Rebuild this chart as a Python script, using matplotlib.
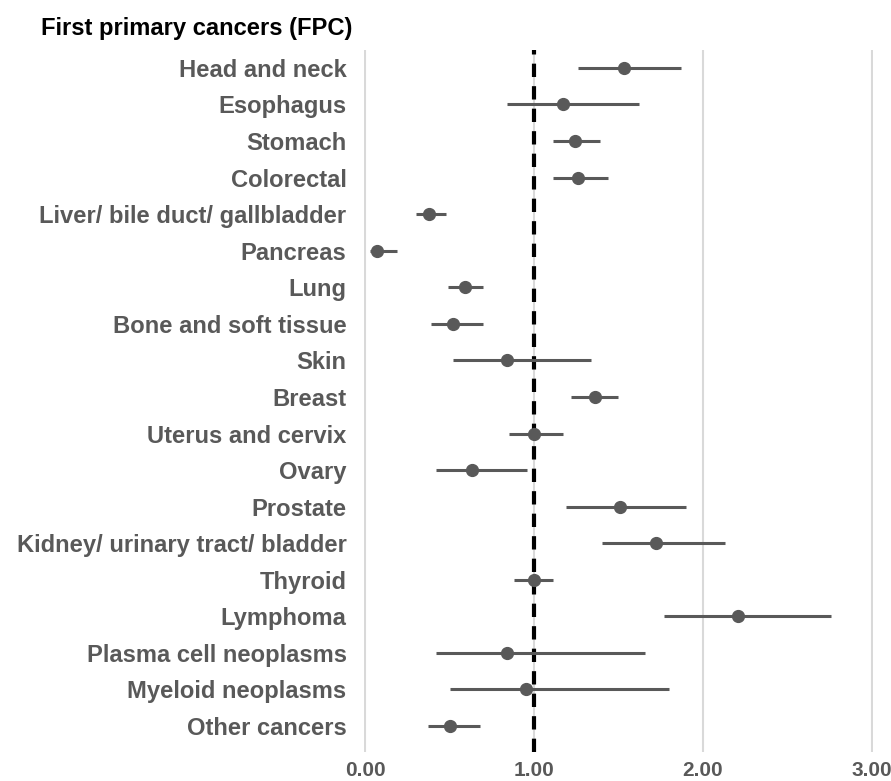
import matplotlib
matplotlib.use("Agg")
import matplotlib.pyplot as plt
import numpy as np

categories = [
    "Head and neck", "Esophagus", "Stomach", "Colorectal",
    "Liver/ bile duct/ gallbladder", "Pancreas", "Lung",
    "Bone and soft tissue", "Skin", "Breast", "Uterus and cervix",
    "Ovary", "Prostate", "Kidney/ urinary tract/ bladder", "Thyroid",
    "Lymphoma", "Plasma cell neoplasms", "Myeloid neoplasms", "Other cancers",
]
estimate = [1.53, 1.17, 1.24, 1.26, 0.38, 0.07, 0.59, 0.52, 0.84, 1.36,
            1.00, 0.63, 1.51, 1.72, 1.00, 2.21, 0.84, 0.95, 0.50]
ci_low = [1.26, 0.84, 1.11, 1.11, 0.30, 0.03, 0.49, 0.39, 0.52, 1.22,
          0.85, 0.42, 1.19, 1.40, 0.88, 1.77, 0.42, 0.50, 0.37]
ci_high = [1.87, 1.62, 1.39, 1.44, 0.48, 0.19, 0.70, 0.70, 1.34, 1.50,
           1.17, 0.96, 1.90, 2.13, 1.11, 2.76, 1.66, 1.80, 0.68]
x_ticks = [0.0, 1.0, 2.0, 3.0]
title = "First primary cancers (FPC)"

plt.rcParams["font.family"] = ["Liberation Sans", "DejaVu Sans"]

fig = plt.figure(figsize=(8.91, 7.81), dpi=100)
ax = fig.add_axes([0.4085, 0.0371, 0.5713, 0.899])

y = np.arange(len(categories))
est = np.array(estimate)
lo = np.array(ci_low)
hi = np.array(ci_high)

ax.set_xlim(-0.008, 3.008)
ax.set_ylim(len(categories) - 0.29, -0.49)

for xv in x_ticks:
    ax.axvline(xv, color="#d9d9d9", lw=1.5, zorder=0)

ax.axvline(1.0, color="black", lw=3.0, linestyle=(0, (3.2, 2.2)), zorder=1)

ax.errorbar(est, y, xerr=[est - lo, hi - est], fmt="o", color="#595959",
            ecolor="#595959", elinewidth=2.2, capsize=0, markersize=8.5,
            zorder=3)

ax.set_yticks(y)
ax.set_yticklabels(categories, fontsize=17.1, fontweight="bold", color="#595959")
ax.set_xticks(x_ticks)
ax.set_xticklabels([f"{v:.2f}" for v in x_ticks], fontsize=15,
                   fontweight="bold", color="#595959")
ax.tick_params(axis="both", length=0)
ax.tick_params(axis="y", pad=12.5)
ax.tick_params(axis="x", pad=6.5)
for s in ax.spines.values():
    s.set_visible(False)

fig.text(352 / 891, 1 - 28 / 781, title, ha="right", va="center",
         fontsize=17.1, fontweight="bold", color="black")

fig.savefig("out.png", dpi=100)
